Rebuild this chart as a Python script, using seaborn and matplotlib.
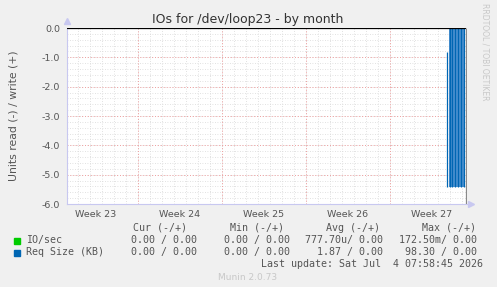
import matplotlib
matplotlib.use("Agg")
import matplotlib.pyplot as plt
import seaborn as sns
import numpy as np
import pandas as pd

# ---- data ----
week_labels = ["Week 23", "Week 24", "Week 25", "Week 26", "Week 27"]
week_centers = [2.4, 9.4, 16.4, 23.4, 30.4]          # days from left edge
week_bounds = [5.9, 12.9, 19.9, 26.9]
y_ticks = [0.0, -1.0, -2.0, -3.0, -4.0, -5.0, -6.0]

zero_x = [0.0, 33.2]
zero_y = [0.0, 0.0]

spike_x = [31.69, 31.875, 32.108, 32.358, 32.608, 32.858, 33.108]
spike_top = [-0.82, 0.0, 0.0, 0.0, 0.0, 0.0, 0.0]
spike_bottom = [-5.42, -5.42, -5.42, -5.42, -5.42, -5.42, -5.42]
fill_x = [31.84, 33.17]
fill_y = [-5.42, -5.42]
now_x = 33.21

legend_names = ["IO/sec", "Req Size (KB)"]
legend_colors = ["#00cc00", "#0066b3"]
cur_vals = ["0.00 / 0.00", "0.00 / 0.00"]
min_vals = ["0.00 / 0.00", "0.00 / 0.00"]
avg_vals = ["777.70u/ 0.00", "1.87 / 0.00"]
max_vals = ["172.50m/ 0.00", "98.30 / 0.00"]

sns.set_style("white")
plt.rcParams["axes.unicode_minus"] = False
plt.rcParams["font.family"] = ["DejaVu Sans"]

W, H = 497, 287
fig = plt.figure(figsize=(W / 100, H / 100), dpi=100)
fig.patch.set_facecolor("#f0f0f0")
ax = fig.add_axes([67 / W, 83 / H, 400 / W, 176 / H])
ax.set_facecolor("white")
ax.set_xlim(0, 33.33)
ax.set_ylim(-6, 0)

# grid
for d in np.arange(0.9, 33.3, 1.0):
    ax.axvline(d, color="#d8d8d8", lw=0.6, ls=(0, (1, 2)), zorder=1)
for v in np.arange(-6, 0.01, 0.2):
    ax.axhline(v, color="#d8d8d8", lw=0.6, ls=(0, (1, 2)), zorder=1)
for b in week_bounds:
    ax.axvline(b, color="#f0a0a0", lw=0.7, ls=(0, (1, 2)), zorder=1.5)
for v in y_ticks:
    ax.axhline(v, color="#f0a0a0", lw=0.7, ls=(0, (1, 2)), zorder=1.5)

# data
ax.fill_between(fill_x, [0, 0], fill_y, color="#4a90cf", lw=0, zorder=3)
ax.vlines(spike_x, spike_bottom, spike_top, color="#0066b3", lw=0.9, zorder=4)
sns.lineplot(x=zero_x, y=zero_y, color="black", lw=0.9, ax=ax, zorder=5)
ax.vlines([now_x], -6, 0, color="#8a8a8a", lw=0.9, zorder=4)

# axes styling
for s in ["top", "right"]:
    ax.spines[s].set_visible(False)
for s in ["left", "bottom"]:
    ax.spines[s].set_color("#c8c8f0")
    ax.spines[s].set_linewidth(0.8)
ax.plot([0], [1.04], marker="^", color="#c8c8f0", ms=4, transform=ax.transAxes, clip_on=False)
ax.plot([1.01], [0], marker=">", color="#c8c8f0", ms=4, transform=ax.transAxes, clip_on=False)

ax.set_yticks(y_ticks)
ax.set_yticklabels([f"{v:.1f}" for v in y_ticks])
ax.set_xticks(week_centers)
ax.set_xticklabels(week_labels)
ax.tick_params(axis="both", length=0, labelsize=6.8, colors="#555555")
ax.tick_params(axis="y", pad=5)
ax.tick_params(axis="x", pad=4)
ax.set_ylabel("Units read (-) / write (+)", fontsize=7.8, color="#555555")
ax.yaxis.set_label_coords(-0.122, 0.5)

fig.text(248 / W, 1 - 19 / H, "IOs for /dev/loop23 - by month", ha="center", va="center",
         fontsize=9, color="#333333")
fig.text(485 / W, 1 - 52 / H, "RRDTOOL / TOBI OETIKER", rotation=270, ha="center", va="center",
         fontsize=5.5, color="#c8c8c8")

mono = "DejaVu Sans Mono"
fs = 7.2
col = "#555555"
def t(x, y, s, ha="right", **kw):
    fig.text(x / W, 1 - y / H, s, ha=ha, va="center", family=mono, fontsize=fs, color=col, **kw)

t(187, 228, "Cur (-/+)")
t(284, 228, "Min (-/+)")
t(380, 228, "Avg (-/+)")
t(476, 228, "Max (-/+)")
rows_y = [240, 252]
for i, name in enumerate(legend_names):
    y = rows_y[i]
    fig.patches.append(plt.Rectangle((14 / W, 1 - (y + 3.5) / H), 6 / W, 6 / H,
                                     transform=fig.transFigure, color=legend_colors[i], figure=fig))
    t(26, y, name, ha="left")
    t(197, y, cur_vals[i])
    t(290, y, min_vals[i])
    t(383, y, avg_vals[i])
    t(477, y, max_vals[i])
t(483, 264, "Last update: Sat Jul  4 07:58:45 2026")
fig.text(248 / W, 1 - 277 / H, "Munin 2.0.73", ha="center", va="center", fontsize=6.5, color="#c8c8c8")

fig.savefig("out.png", dpi=100, facecolor=fig.get_facecolor())
